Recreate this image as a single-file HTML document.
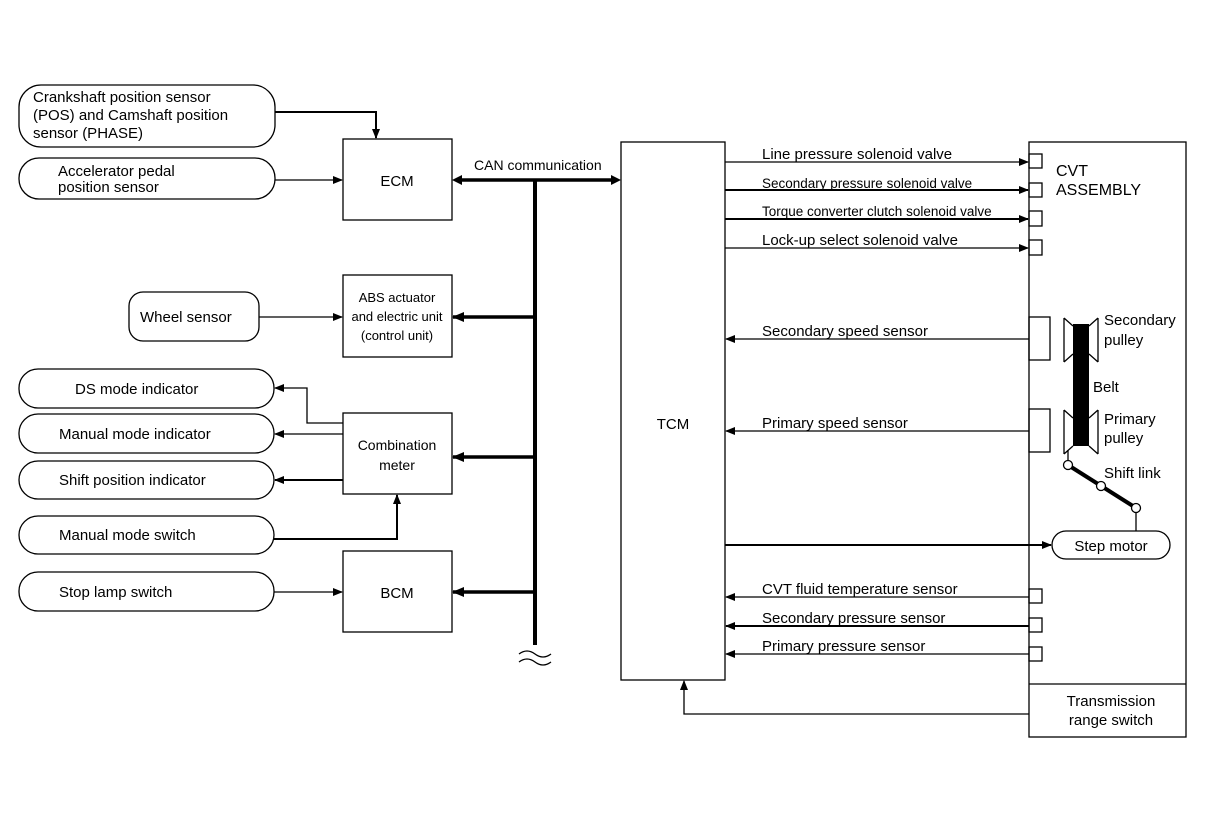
<!DOCTYPE html>
<html><head><meta charset="utf-8"><style>
html,body{margin:0;padding:0;background:#fff;}
svg{display:block;}
text{font-family:"Liberation Sans",Arial,sans-serif;fill:#000;}
</style></head><body>
<svg width="1216" height="822" viewBox="0 0 1216 822" xmlns="http://www.w3.org/2000/svg">
<defs>
<marker id="a" markerWidth="10" markerHeight="8" refX="9" refY="4" orient="auto" markerUnits="userSpaceOnUse"><path d="M0,0 L10,4 L0,8 z" fill="#000"/></marker>
<marker id="b" markerWidth="12" markerHeight="10" refX="11" refY="5" orient="auto" markerUnits="userSpaceOnUse"><path d="M0,0 L12,5 L0,10 z" fill="#000"/></marker>
</defs>
<g fill="none" stroke="#000" stroke-width="1.3">
<rect x="19" y="85" width="256" height="62" rx="22"/>
<rect x="19" y="158" width="256" height="41" rx="20"/>
<rect x="129" y="292" width="130" height="49" rx="14"/>
<rect x="19" y="369" width="255" height="39" rx="19"/>
<rect x="19" y="414" width="255" height="39" rx="19"/>
<rect x="19" y="461" width="255" height="38" rx="19"/>
<rect x="19" y="516" width="255" height="38" rx="19"/>
<rect x="19" y="572" width="255" height="39" rx="19"/>
<rect x="343" y="139" width="109" height="81"/>
<rect x="343" y="275" width="109" height="82"/>
<rect x="343" y="413" width="109" height="81"/>
<rect x="343" y="551" width="109" height="81"/>
<rect x="621" y="142" width="104" height="538"/>
<rect x="1029" y="142" width="157" height="595"/>
<line x1="1029" y1="684" x2="1186" y2="684"/>
<rect x="1029" y="154" width="13" height="14"/>
<rect x="1029" y="183" width="13" height="14"/>
<rect x="1029" y="211" width="13" height="15"/>
<rect x="1029" y="240" width="13" height="15"/>
<rect x="1029" y="317" width="21" height="43"/>
<rect x="1029" y="409" width="21" height="43"/>
<rect x="1029" y="589" width="13" height="14"/>
<rect x="1029" y="618" width="13" height="14"/>
<rect x="1029" y="647" width="13" height="14"/>
<rect x="1052" y="531" width="118" height="28" rx="14"/>
</g>
<g fill="none" stroke="#000" stroke-width="1.3">
<polyline points="275,112 376,112 376,138" stroke-width="2" marker-end="url(#a)"/>
<line x1="275" y1="180" x2="342" y2="180" marker-end="url(#a)"/>
<line x1="259" y1="317" x2="342" y2="317" marker-end="url(#a)"/>
<polyline points="343,423 307,423 307,388 275,388" marker-end="url(#a)"/>
<line x1="343" y1="434" x2="275" y2="434" marker-end="url(#a)"/>
<line x1="343" y1="480" x2="275" y2="480" stroke-width="2" marker-end="url(#a)"/>
<polyline points="274,539 397,539 397,495" stroke-width="2" marker-end="url(#a)"/>
<line x1="274" y1="592" x2="342" y2="592" marker-end="url(#a)"/>
<line x1="462" y1="180" x2="611" y2="180" stroke-width="3.5"/>
<line x1="535" y1="180" x2="535" y2="645" stroke-width="4"/>
<line x1="535" y1="317" x2="453" y2="317" stroke-width="3.5" marker-end="url(#b)"/>
<line x1="535" y1="457" x2="453" y2="457" stroke-width="3.5" marker-end="url(#b)"/>
<line x1="535" y1="592" x2="453" y2="592" stroke-width="3.5" marker-end="url(#b)"/>
<path d="M519,654 q8,-6 16,0 t16,0 M519,662 q8,-6 16,0 t16,0" stroke-width="1.3"/>
<line x1="725" y1="162" x2="1028" y2="162" marker-end="url(#a)"/>
<line x1="725" y1="190" x2="1028" y2="190" stroke-width="2" marker-end="url(#a)"/>
<line x1="725" y1="219" x2="1028" y2="219" stroke-width="2" marker-end="url(#a)"/>
<line x1="725" y1="248" x2="1028" y2="248" marker-end="url(#a)"/>
<line x1="1029" y1="339" x2="726" y2="339" marker-end="url(#a)"/>
<line x1="1029" y1="431" x2="726" y2="431" marker-end="url(#a)"/>
<line x1="725" y1="545" x2="1051" y2="545" stroke-width="2" marker-end="url(#a)"/>
<line x1="1029" y1="597" x2="726" y2="597" marker-end="url(#a)"/>
<line x1="1029" y1="626" x2="726" y2="626" stroke-width="2" marker-end="url(#a)"/>
<line x1="1029" y1="654" x2="726" y2="654" marker-end="url(#a)"/>
<polyline points="1029,714 684,714 684,681" marker-end="url(#a)"/>
<path d="M1064,318 L1064,362 M1064,318 L1073,326 M1073,354 L1064,362 M1098,318 L1098,362 M1098,318 L1089,326 M1089,354 L1098,362"/>
<path d="M1064,410 L1064,454 M1064,410 L1073,418 M1073,446 L1064,454 M1098,410 L1098,454 M1098,410 L1089,418 M1089,446 L1098,454"/>
<line x1="1068" y1="450" x2="1068" y2="465"/>
<line x1="1136" y1="508" x2="1136" y2="531"/>
</g>
<polygon points="462,175 452,180 462,185" fill="#000"/>
<polygon points="611,175 621,180 611,185" fill="#000"/>
<rect x="1073" y="324" width="16" height="122" fill="#000"/>
<line x1="1068" y1="465" x2="1136" y2="508" stroke="#000" stroke-width="4"/>
<g fill="#fff" stroke="#000" stroke-width="1.3">
<circle cx="1068" cy="465" r="4.5"/><circle cx="1101" cy="486" r="4.5"/><circle cx="1136" cy="508" r="4.5"/>
</g>
<g font-size="15">
<text x="33" y="102">Crankshaft position sensor</text>
<text x="33" y="120">(POS) and Camshaft position</text>
<text x="33" y="138">sensor (PHASE)</text>
<text x="58" y="176">Accelerator pedal</text>
<text x="58" y="192">position sensor</text>
<text x="397" y="186" text-anchor="middle">ECM</text>
<text x="140" y="322">Wheel sensor</text>
<text x="397" y="302" text-anchor="middle" font-size="13">ABS actuator</text>
<text x="397" y="321" text-anchor="middle" font-size="13">and electric unit</text>
<text x="397" y="340" text-anchor="middle" font-size="13">(control unit)</text>
<text x="75" y="394">DS mode indicator</text>
<text x="59" y="439">Manual mode indicator</text>
<text x="59" y="485">Shift position indicator</text>
<text x="59" y="540">Manual mode switch</text>
<text x="59" y="597">Stop lamp switch</text>
<text x="397" y="450" text-anchor="middle" font-size="14">Combination</text>
<text x="397" y="470" text-anchor="middle" font-size="14">meter</text>
<text x="397" y="598" text-anchor="middle">BCM</text>
<text x="474" y="170" font-size="14">CAN communication</text>
<text x="673" y="429" text-anchor="middle">TCM</text>
<text x="762" y="159">Line pressure solenoid valve</text>
<text x="762" y="188" font-size="13.5">Secondary pressure solenoid valve</text>
<text x="762" y="216" font-size="13.5">Torque converter clutch solenoid valve</text>
<text x="762" y="245">Lock-up select solenoid valve</text>
<text x="762" y="336">Secondary speed sensor</text>
<text x="762" y="428">Primary speed sensor</text>
<text x="762" y="594">CVT fluid temperature sensor</text>
<text x="762" y="623">Secondary pressure sensor</text>
<text x="762" y="651">Primary pressure sensor</text>
<text x="1056" y="176" font-size="16">CVT</text>
<text x="1056" y="195" font-size="16">ASSEMBLY</text>
<text x="1104" y="325">Secondary</text>
<text x="1104" y="345">pulley</text>
<text x="1093" y="392">Belt</text>
<text x="1104" y="424">Primary</text>
<text x="1104" y="443">pulley</text>
<text x="1104" y="478">Shift link</text>
<text x="1111" y="551" text-anchor="middle">Step motor</text>
<text x="1111" y="706" text-anchor="middle">Transmission</text>
<text x="1111" y="725" text-anchor="middle">range switch</text>
</g>
</svg>
</body></html>
